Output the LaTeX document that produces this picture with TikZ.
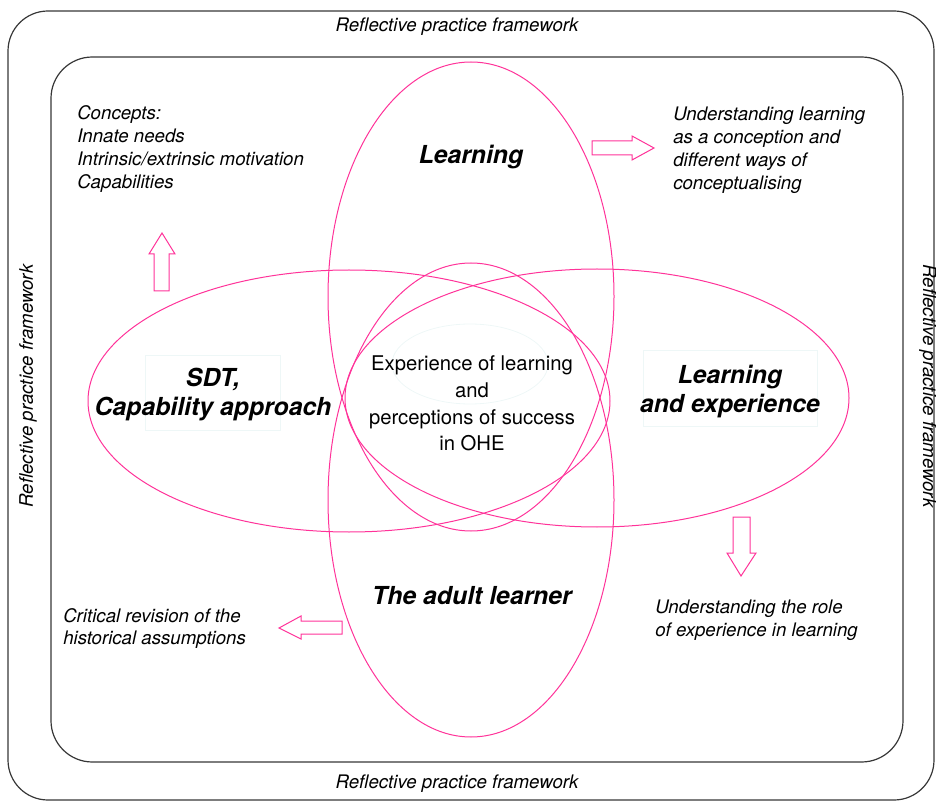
\documentclass[tikz,border=0pt]{standalone}
\usepackage{fontspec}
\setmainfont{TeX Gyre Heros}
\definecolor{pink}{RGB}{255,51,153}
\definecolor{frame}{RGB}{55,55,55}
\definecolor{faint}{RGB}{238,247,247}
\tikzset{
  framebox/.style={draw=frame, line width=0.9pt},
  venn/.style={draw=pink, line width=0.75pt},
  blockarrow/.style={draw=pink, line width=0.75pt, line join=miter},
  note/.style={font=\fontsize{14pt}{17.25pt}\selectfont\itshape, align=left, inner sep=0pt},
  title/.style={font=\fontsize{18.6pt}{21.75pt}\selectfont\bfseries\itshape, align=center, inner sep=0pt},
  rpf/.style={font=\fontsize{14pt}{17pt}\selectfont\itshape, inner sep=0pt},
  ghost/.style={draw=faint, line width=0.6pt}
}
\begin{document}
\begin{tikzpicture}[x=0.75pt,y=-0.75pt]
\useasboundingbox (0,0) rectangle (936,802);
% frames
\draw[framebox, rounded corners=30pt] (8,11) rectangle (934,800);
\draw[framebox, rounded corners=31pt] (51,57) rectangle (903,762);
% faint background shapes
\draw[ghost] (145,355) rectangle (280,430);
\draw[ghost] (643,350) rectangle (817,426);
\draw[ghost] (470,364) ellipse [x radius=58.5pt, y radius=30pt];
% Venn ellipses
\draw[venn] (471,296.5) ellipse [x radius=107.25pt, y radius=175.875pt];
\draw[venn] (471,500) ellipse [x radius=107.25pt, y radius=177.75pt];
\draw[venn] (349,401) ellipse [x radius=195.75pt, y radius=98.25pt];
\draw[venn] (597,398) ellipse [x radius=189pt, y radius=96.75pt];
% block arrows
\draw[blockarrow] (154,291) -- (154,254) -- (149,254) -- (162,233) -- (175,254) -- (169,254) -- (169,291) -- cycle;
\draw[blockarrow] (592,141) -- (632,141) -- (632,136) -- (654,148) -- (632,160) -- (632,155) -- (592,155) -- cycle;
\draw[blockarrow] (733,517) -- (750,517) -- (750,553) -- (756,553) -- (741,576) -- (727,553) -- (733,553) -- cycle;
\draw[blockarrow] (342,621) -- (301,621) -- (301,616) -- (279,628) -- (301,639) -- (301,634) -- (342,634) -- cycle;
% frame labels
\node[rpf] (rtop) at (457,26.5) {Reflective practice framework};
\node[rpf] (rbottom) at (457,783.5) {Reflective practice framework};
\node[rpf, rotate=90] (rleft) at (28,386) {Reflective practice framework};
\node[rpf, rotate=-90] (rright) at (928,386) {Reflective practice framework};
% titles
\node[title] (learning) at (471,157) {Learning};
\node[title] (sdt) at (213,395) {SDT,\\Capability approach};
\node[title] (learnexp) at (730,392) {Learning\\and experience};
\node[title] (adult) at (472,596) {The adult learner};
\node[font=\fontsize{15.2pt}{20pt}\selectfont, align=center, inner sep=0pt] (centre) at (472,403.5)
  {Experience of learning\\and\\perceptions of success\\in OHE};
% notes
\node[note, anchor=west] (concepts) at (77,149) {Concepts:\\Innate needs\\Intrinsic/extrinsic motivation\\Capabilities};
\node[note, anchor=west] (underst) at (673,150.5) {Understanding learning\\as a conception and\\different ways of\\conceptualising};
\node[note, anchor=west, font=\fontsize{14pt}{16.5pt}\selectfont\itshape] (critical) at (63,629) {Critical revision of the\\historical assumptions};
\node[note, anchor=west] (role) at (655,620.5) {Understanding the role\\of experience in learning};
\end{tikzpicture}
\end{document}
